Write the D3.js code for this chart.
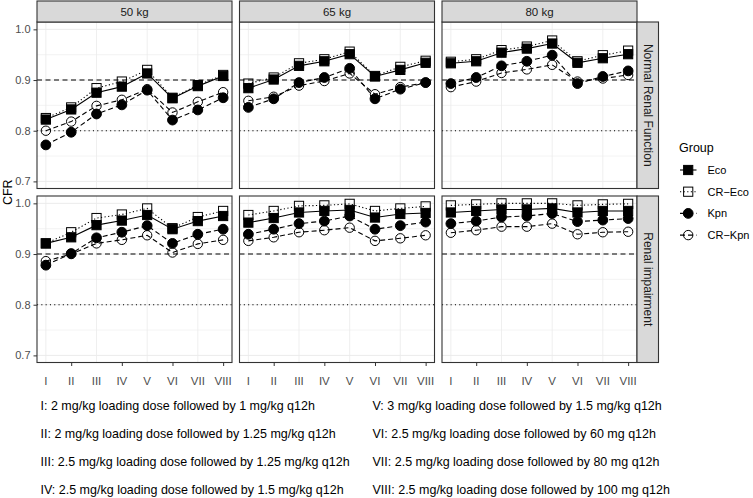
<!DOCTYPE html>
<html>
<head>
<meta charset="utf-8">
<script src="https://cdn.jsdelivr.net/npm/d3@7"></script>
<style>
  body { margin: 0; background: #fff; }
  text { font-family: "Liberation Sans", Arial, sans-serif; }
</style>
</head>
<body>
<svg width="753" height="498"></svg>
<script>
const regimens = ['I', 'II', 'III', 'IV', 'V', 'VI', 'VII', 'VIII'];
const weights = ['50 kg', '65 kg', '80 kg'];
const renal = ['Normal Renal Function', 'Renal impairment'];
const groups = ['Eco', 'CR\u2212Eco', 'Kpn', 'CR\u2212Kpn'];
const yTicks = [0.7, 0.8, 0.9, 1.0];
const targets = [0.9, 0.8];

// values per weight (50, 65, 80 kg), regimens I..VIII
const ecoNormal = [
  [0.822, 0.842, 0.875, 0.887, 0.913, 0.864, 0.888, 0.908],
  [0.884, 0.901, 0.928, 0.937, 0.951, 0.907, 0.920, 0.934],
  [0.933, 0.937, 0.954, 0.962, 0.972, 0.934, 0.943, 0.951]
];
const crEcoNormal = [
  [0.825, 0.846, 0.884, 0.897, 0.920, 0.865, 0.890, 0.910],
  [0.893, 0.905, 0.933, 0.941, 0.956, 0.908, 0.926, 0.938],
  [0.936, 0.941, 0.959, 0.966, 0.978, 0.937, 0.949, 0.958]
];
const kpnNormal = [
  [0.772, 0.797, 0.833, 0.851, 0.880, 0.821, 0.841, 0.865],
  [0.846, 0.863, 0.895, 0.905, 0.923, 0.863, 0.882, 0.895],
  [0.893, 0.905, 0.928, 0.937, 0.949, 0.893, 0.907, 0.918]
];
const crKpnNormal = [
  [0.800, 0.818, 0.849, 0.861, 0.882, 0.836, 0.857, 0.876],
  [0.859, 0.867, 0.889, 0.898, 0.913, 0.872, 0.886, 0.895],
  [0.886, 0.897, 0.914, 0.921, 0.930, 0.897, 0.903, 0.910]
];
const ecoImpair = [
  [0.921, 0.933, 0.957, 0.966, 0.977, 0.949, 0.965, 0.975],
  [0.962, 0.971, 0.982, 0.985, 0.987, 0.972, 0.979, 0.981],
  [0.982, 0.985, 0.988, 0.988, 0.990, 0.982, 0.985, 0.985]
];
const crEcoImpair = [
  [0.921, 0.943, 0.971, 0.978, 0.990, 0.951, 0.973, 0.985],
  [0.977, 0.985, 0.995, 0.996, 0.999, 0.985, 0.990, 0.994],
  [0.996, 0.998, 1.000, 1.000, 1.000, 0.996, 0.998, 0.999]
];
const kpnImpair = [
  [0.878, 0.901, 0.932, 0.943, 0.956, 0.921, 0.939, 0.949],
  [0.939, 0.949, 0.960, 0.965, 0.975, 0.949, 0.956, 0.963],
  [0.960, 0.965, 0.973, 0.975, 0.980, 0.964, 0.967, 0.970]
];
const crKpnImpair = [
  [0.886, 0.900, 0.921, 0.928, 0.937, 0.903, 0.920, 0.928],
  [0.926, 0.933, 0.943, 0.947, 0.952, 0.926, 0.931, 0.937],
  [0.942, 0.947, 0.954, 0.954, 0.960, 0.939, 0.943, 0.944]
];
const doseNotes = [
  'I: 2 mg/kg loading dose followed by 1 mg/kg q12h',
  'II: 2 mg/kg loading dose followed by 1.25 mg/kg q12h',
  'III: 2.5 mg/kg loading dose followed by 1.25 mg/kg q12h',
  'IV: 2.5 mg/kg loading dose followed by 1.5 mg/kg q12h',
  'V: 3 mg/kg loading dose followed by 1.5 mg/kg q12h',
  'VI: 2.5 mg/kg loading dose followed by 60 mg q12h',
  'VII: 2.5 mg/kg loading dose followed by 80 mg q12h',
  'VIII: 2.5 mg/kg loading dose followed by 100 mg q12h'
];

const seriesByRow = [
  [ecoNormal, crEcoNormal, kpnNormal, crKpnNormal],
  [ecoImpair, crEcoImpair, kpnImpair, crKpnImpair]
];
const styles = [
  { shape: 'square', fill: '#000', dash: null },
  { shape: 'square', fill: 'none', dash: '1.2,2.4' },
  { shape: 'circle', fill: '#000', dash: '5,3' },
  { shape: 'circle', fill: 'none', dash: '5,3' }
];

const svg = d3.select('svg');
const marginL = 37, marginT = 22, panelW = 195, panelH = 166.5, gapX = 7.5, gapY = 7.5;
const stripH = 21, stripW = 21.5;

const x = d3.scaleLinear().domain([0.65, 8.35]).range([0, panelW]);
const y = d3.scaleLinear().domain([0.686, 1.0145]).range([panelH, 0]);

function marker(g, s, cx, cy) {
  if (s.shape === 'square') {
    g.append('rect').attr('x', cx - 4.6).attr('y', cy - 4.6).attr('width', 9.2).attr('height', 9.2)
      .attr('fill', s.fill === 'none' ? 'none' : '#000').attr('stroke', '#000').attr('stroke-width', 1);
  } else {
    g.append('circle').attr('cx', cx).attr('cy', cy).attr('r', s.fill === 'none' ? 4.7 : 4.9)
      .attr('fill', s.fill === 'none' ? 'none' : '#000').attr('stroke', '#000').attr('stroke-width', 1);
  }
}

renal.forEach((r, ri) => {
  weights.forEach((w, wi) => {
    const px = marginL + wi * (panelW + gapX);
    const py = marginT + ri * (panelH + gapY);
    const g = svg.append('g').attr('transform', `translate(${px},${py})`);

    g.append('rect').attr('width', panelW).attr('height', panelH).attr('fill', '#fff');

    // grid
    [0.75, 0.85, 0.95].forEach(v => g.append('line')
      .attr('x1', 0).attr('x2', panelW).attr('y1', y(v)).attr('y2', y(v))
      .attr('stroke', '#EBEBEB').attr('stroke-width', 0.6));
    yTicks.forEach(v => g.append('line')
      .attr('x1', 0).attr('x2', panelW).attr('y1', y(v)).attr('y2', y(v))
      .attr('stroke', '#EBEBEB').attr('stroke-width', 1));
    [1, 3, 5, 7].forEach(v => g.append('line')
      .attr('x1', x(v)).attr('x2', x(v)).attr('y1', 0).attr('y2', panelH)
      .attr('stroke', '#EBEBEB').attr('stroke-width', 0.8));

    // reference lines
    g.append('line').attr('x1', 0).attr('x2', panelW).attr('y1', y(targets[0])).attr('y2', y(targets[0]))
      .attr('stroke', '#000').attr('stroke-width', 1.1).attr('stroke-dasharray', '5,3.5');
    g.append('line').attr('x1', 0).attr('x2', panelW).attr('y1', y(targets[1])).attr('y2', y(targets[1]))
      .attr('stroke', '#000').attr('stroke-width', 1.1).attr('stroke-dasharray', '1.1,3.2');

    const line = d3.line().x((d, i) => x(i + 1)).y(d => y(d));
    seriesByRow[ri].forEach((ser, si) => {
      g.append('path').datum(ser[wi]).attr('d', line).attr('fill', 'none')
        .attr('stroke', '#000').attr('stroke-width', 1.1)
        .attr('stroke-dasharray', styles[si].dash);
    });
    seriesByRow[ri].forEach((ser, si) => {
      ser[wi].forEach((v, i) => marker(g, styles[si], x(i + 1), y(v)));
    });

    g.append('rect').attr('width', panelW).attr('height', panelH).attr('fill', 'none')
      .attr('stroke', '#333').attr('stroke-width', 1.1);

    // top strips
    if (ri === 0) {
      svg.append('rect').attr('x', px).attr('y', marginT - stripH).attr('width', panelW).attr('height', stripH)
        .attr('fill', '#D9D9D9').attr('stroke', '#333').attr('stroke-width', 1.1);
      svg.append('text').attr('x', px + panelW / 2).attr('y', marginT - stripH / 2 + 4.2)
        .attr('text-anchor', 'middle').attr('font-size', 11.5).attr('fill', '#1A1A1A').text(w);
    }
    // right strips
    if (wi === weights.length - 1) {
      svg.append('rect').attr('x', px + panelW).attr('y', py).attr('width', stripW).attr('height', panelH)
        .attr('fill', '#D9D9D9').attr('stroke', '#333').attr('stroke-width', 1.1);
      svg.append('text')
        .attr('transform', `translate(${px + panelW + stripW / 2 - 4.2},${py + panelH / 2}) rotate(90)`)
        .attr('text-anchor', 'middle').attr('font-size', 12).attr('fill', '#1A1A1A').text(r);
    }
    // y axis
    if (wi === 0) {
      const ax = svg.append('g').attr('transform', `translate(${px},${py})`)
        .call(d3.axisLeft(y).tickValues(yTicks).tickFormat(d3.format('.1f')).tickSize(3.5).tickPadding(3));
      ax.select('.domain').remove();
      ax.selectAll('line').attr('stroke', '#333').attr('stroke-width', 1);
      ax.selectAll('text').attr('font-size', 11).attr('fill', '#4D4D4D')
        .attr('font-family', '"Liberation Sans", Arial, sans-serif');
    }
    // x axis
    if (ri === renal.length - 1) {
      const ax = svg.append('g').attr('transform', `translate(${px},${py + panelH})`)
        .call(d3.axisBottom(x).tickValues([2, 4, 6, 8]).tickFormat('').tickSize(3.5));
      ax.select('.domain').remove();
      ax.selectAll('line').attr('stroke', '#333').attr('stroke-width', 1);
      regimens.forEach((lab, i) => svg.append('text')
        .attr('x', px + x(i + 1)).attr('y', py + panelH + 22)
        .attr('text-anchor', 'middle').attr('font-size', 11.5).attr('fill', '#4D4D4D').text(lab));
    }
  });
});

// y title
svg.append('text').attr('transform', `translate(11.5,${marginT + panelH + gapY / 2}) rotate(-90)`)
  .attr('text-anchor', 'middle').attr('font-size', 12.5).attr('fill', '#000').text('CFR');

// legend
const lg = svg.append('g').attr('transform', 'translate(679,0)');
lg.append('text').attr('x', 0).attr('y', 152).attr('font-size', 12.5).text('Group');
groups.forEach((name, i) => {
  const ky = 170 + i * 21.7;
  const k = lg.append('g');
  k.append('line').attr('x1', 1).attr('x2', 17.5).attr('y1', ky).attr('y2', ky)
    .attr('stroke', '#000').attr('stroke-width', 1.1).attr('stroke-dasharray', styles[i].dash);
  marker(k, styles[i], 9.2, ky);
  k.append('text').attr('x', 28.5).attr('y', ky + 4).attr('font-size', 11).attr('fill', '#000').text(name);
});

// regimen notes
const notes = svg.append('g');
const noteYs = [410, 438, 466.5, 494.5];
doseNotes.forEach((t, i) => {
  notes.append('text').attr('class', 'note')
    .attr('x', i < 4 ? 40.5 : 372.5).attr('y', noteYs[i % 4])
    .attr('font-size', 13).attr('fill', '#000').text(t);
});
// squeeze notes horizontally to match the narrow look of the reference
const w0 = notes.select('.note').node().getComputedTextLength();
const sx = 274.5 / w0;
notes.selectAll('.note').each(function () {
  const el = d3.select(this);
  const x0 = +el.attr('x');
  el.attr('transform', `translate(${x0},0) scale(${sx},1) translate(${-x0},0)`);
});
</script>
</body>
</html>
